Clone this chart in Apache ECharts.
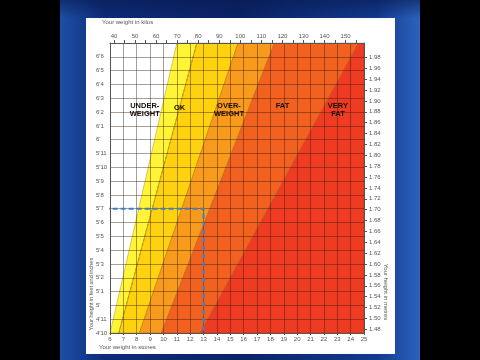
<!DOCTYPE html>
<html><head><meta charset="utf-8">
<script src="https://cdn.jsdelivr.net/npm/echarts@6/dist/echarts.min.js"></script>
<style>html,body{margin:0;padding:0;background:#000;}#c{width:480px;height:360px;}</style>
</head><body><div id="c"></div>
<script>
// ---- data ----
var stoneTicks = [6,7,8,9,10,11,12,13,14,15,16,17,18,19,20,21,22,23,24,25];
var kgTicks = [40,50,60,70,80,90,100,110,120,130,140,150];
var kgMinorTicks = [40,45,50,55,60,65,70,75,80,85,90,95,100,105,110,115,120,125,130,135,140,145,150,155];
var heightInches = [58,59,60,61,62,63,64,65,66,67,68,69,70,71,72,73,74,75,76,77,78];
var heightLabels = ["4'10","4'11","5'","5'1","5'2","5'3","5'4","5'5","5'6","5'7","5'8","5'9","5'10","5'11","6'","6'1","6'2","6'3","6'4","6'5","6'6"];
var metreTicks = [1.48,1.50,1.52,1.54,1.56,1.58,1.60,1.62,1.64,1.66,1.68,1.70,1.72,1.74,1.76,1.78,1.80,1.82,1.84,1.86,1.88,1.90,1.92,1.94,1.96,1.98];
// zone boundaries (weight in stones) at the bottom (58 in) and top (79 in) of the chart
var boundaryAtBottom = [6.0, 6.66, 8.2, 9.84, 12.75];
var boundaryAtTop    = [11.0, 12.5, 15.58, 18.3, 24.6];
var zoneNames = ['UNDER-\nWEIGHT','OK','OVER-\nWEIGHT','FAT','VERY\nFAT'];
var zoneLabelStones = [8.6, 11.2, 14.9, 18.9, 23.05];
var zoneLabelInches = [74.15, 74.3, 74.15, 74.44, 74.15];
var exampleHeightInches = 67;
var exampleWeightStones = 13;

// ---- constants ----
var KG_PER_STONE = 6.35, M_PER_INCH = 0.0254;
var xMin = stoneTicks[0], xMax = stoneTicks[stoneTicks.length-1];
var yMin = 58, yMax = 79;
var zoneFills = ['#fff536','#ffd20f','#f89a1c','#f2611f','#ee3b21'];

var polys = [];
for (var i = 0; i < boundaryAtBottom.length; i++) {
  var nb = i + 1 < boundaryAtBottom.length ? boundaryAtBottom[i+1] : xMax;
  var nt = i + 1 < boundaryAtTop.length ? boundaryAtTop[i+1] : xMax;
  polys.push([[boundaryAtBottom[i], yMin],[boundaryAtTop[i], yMax],[nt, yMax],[nb, yMin]]);
}

var chart = echarts.init(document.getElementById('c'), null, {renderer:'canvas'});
var FONT = 'Liberation Sans, Arial, sans-serif';
var lab = {color:'#555', fontSize:6, fontFamily:FONT};
var option = {
  animation:false,
  backgroundColor:'#000',
  grid:{left:110, top:43, width:254, height:290},
  xAxis:[{
    type:'value', min:xMin, max:xMax, interval:1, position:'bottom', z:3,
    axisLine:{show:true, lineStyle:{color:'#555', width:1}},
    axisTick:{show:true, length:2, lineStyle:{color:'#555'}},
    axisLabel:Object.assign({margin:3}, lab),
    splitLine:{show:true, lineStyle:{color:'rgba(50,25,15,0.42)', width:1}}
  },{
    type:'value', min:xMin*KG_PER_STONE, max:xMax*KG_PER_STONE, position:'top', z:3,
    axisLine:{show:true, lineStyle:{color:'#555', width:1}},
    axisTick:{show:true, length:3, customValues:kgMinorTicks, lineStyle:{color:'#555'}},
    axisLabel:Object.assign({margin:4, customValues:kgTicks}, lab),
    splitLine:{show:false}
  }],
  yAxis:[{
    type:'value', min:yMin, max:yMax, interval:1, position:'left', z:3,
    axisLine:{show:true, lineStyle:{color:'#555', width:1}},
    axisTick:{show:false},
    axisLabel:Object.assign({margin:14, align:'left', customValues:heightInches,
      formatter:function(v){ var k = heightInches.indexOf(Math.round(v)); return k>=0 ? heightLabels[k] : ''; }}, lab),
    splitLine:{show:true, lineStyle:{color:'rgba(50,25,15,0.42)', width:1}}
  },{
    type:'value', min:yMin*M_PER_INCH, max:yMax*M_PER_INCH, position:'right', z:3,
    axisLine:{show:true, lineStyle:{color:'#555', width:1}},
    axisTick:{show:true, length:3, customValues:metreTicks, lineStyle:{color:'#555'}},
    axisLabel:Object.assign({margin:5, customValues:metreTicks,
      formatter:function(v){ return v.toFixed(2); }}, lab),
    splitLine:{show:false}
  }],
  graphic:[
    {type:'rect', z:-10, shape:{x:60, y:0, width:360, height:360},
      style:{fill:new echarts.graphic.LinearGradient(0,0,1,0,[
        {offset:0, color:'#1d4fa6'},{offset:0.12, color:'#0d2c78'},{offset:0.5, color:'#0a2366'},
        {offset:0.88, color:'#123a8e'},{offset:1, color:'#2b62bd'}])}},
    {type:'rect', z:-9, shape:{x:60, y:0, width:360, height:18},
      style:{fill:new echarts.graphic.LinearGradient(0,0,0,1,[
        {offset:0, color:'rgba(8,26,80,0.6)'},{offset:1, color:'rgba(8,26,80,0)'}])}},
    {type:'rect', z:-8, shape:{x:86, y:18, width:309, height:336}, style:{fill:'#ffffff'}},
    {type:'text', z:50, x:102, y:22, style:{text:'Your weight in kilos', fill:'#555', fontSize:6, fontFamily:FONT, textVerticalAlign:'middle'}},
    {type:'text', z:50, x:99, y:347, style:{text:'Your weight in stones', fill:'#555', fontSize:6, fontFamily:FONT, textVerticalAlign:'middle'}},
    {type:'text', z:50, x:91, y:294, rotation:Math.PI/2, style:{text:'Your height in feet and inches', fill:'#555', fontSize:5.5, fontFamily:FONT, textAlign:'center', textVerticalAlign:'middle'}},
    {type:'text', z:50, x:386, y:292, rotation:-Math.PI/2, style:{text:'Your height in metres', fill:'#555', fontSize:6, fontFamily:FONT, textAlign:'center', textVerticalAlign:'middle'}}
  ],
  series:[{
    type:'custom', z:1, xAxisIndex:0, yAxisIndex:0,
    data: polys.map(function(p,i){ return [i]; }),
    renderItem:function(params, api){
      var i = api.value(0);
      var pts = polys[i].map(function(p){ return api.coord(p); });
      return {type:'polygon', shape:{points:pts}, style:{fill:zoneFills[i], stroke:'rgba(120,50,0,0.35)', lineWidth:0.8}};
    }
  },{
    type:'line', z:2, xAxisIndex:0, yAxisIndex:0, symbol:'none',
    data:[[boundaryAtBottom[1], yMin],[boundaryAtTop[1], yMax]],
    lineStyle:{color:'#b99a0c', width:1, type:[3,2]}
  },{
    type:'line', z:6, xAxisIndex:0, yAxisIndex:0, symbol:'none', clip:false,
    data:[[xMin-0.4, exampleHeightInches],[exampleWeightStones, exampleHeightInches],[exampleWeightStones, yMin]],
    lineStyle:{color:'#3d7fc0', width:2, type:[5,3]}
  },{
    type:'custom', z:10, xAxisIndex:0, yAxisIndex:0,
    data: zoneNames.map(function(n,i){ return [zoneLabelStones[i], zoneLabelInches[i], i]; }),
    renderItem:function(params, api){
      var p = api.coord([api.value(0), api.value(1)]);
      return {type:'text', x:p[0], y:p[1], style:{text:zoneNames[api.value(2)], fill:'#150c05',
        fontSize:7.5, fontWeight:'bold', fontFamily:FONT, lineHeight:8.5, align:'center', verticalAlign:'middle'}};
    }
  }]
};
chart.setOption(option);
</script></body></html>
